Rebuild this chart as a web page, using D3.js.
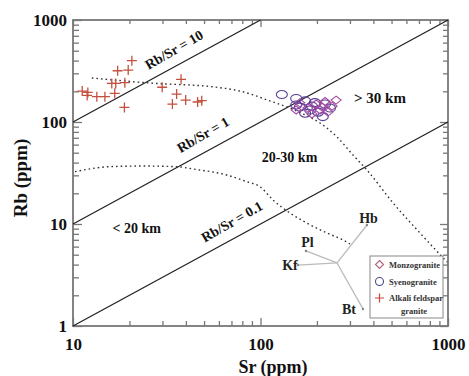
<!DOCTYPE html>
<html><head><meta charset="utf-8">
<script src="https://cdn.jsdelivr.net/npm/d3@7"></script>
<style>body{margin:0;background:#fff;} text{font-family:"Liberation Serif","Times New Roman",serif;font-weight:bold;}</style>
</head><body><svg id="c" width="469" height="376"></svg>
<script>
// ---- data ----
const srMajorTicks = [10, 100, 1000];
const rbMajorTicks = [1, 10, 100, 1000];
const ratios = [10, 1, 0.1];
const ratioLabels = ["Rb/Sr = 10", "Rb/Sr = 1", "Rb/Sr = 0.1"];
const ratioLabelSr = [34.6, 49.4, 70.5];
const ratioLabelRb = [508, 74.6, 10.5];

const alkaliSr = [20.6,17.3,19.7,16.1,16.9,18.9,11.2,12.0,11.9,13.4,14.8,16.7,18.8,29.9,37.7,35.7,33.9,39.9,46.2,48.6];
const alkaliRb = [399,318,323,239,239,243,201,195,182,177,177,191,139,219,262,188,150,164,157,162];
const syenoSr = [130,155,173,195,162,184,203,215,155,173,221,235,188];
const syenoRb = [186,170,161,155,140,131,125,113,147,122,150,137,143];
const monzoSr = [221,253,162,179,198,208,229,155,188,213,241];
const monzoRb = [159,164,154,137,150,131,125,131,120,140,143];

const upperCurveSr = [12.6,25.7,57.2,77.7,116.6,143.7,168.6,207.7,255.9,311.4,369.8,508.9,709.0,987.9];
const upperCurveRb = [270,241,220,201,157,137,120,97.8,71.3,47.5,33.8,16.1,8.16,4.24];
const lowerCurveSr = [10.25,15.8,23.6,35.7,43.7,66.0,84.4,99.4,116.6,143.7,177.0,226.3,275.4,300.1];
const lowerCurveRb = [32.6,36.5,37.0,36.5,34.6,30.2,26.0,23.2,17.2,12.8,10.2,8.16,6.97,6.37];

const regionLabels = ["> 30 km", "20-30 km", "< 20 km"];
const regionSr = [433.9, 142.8, 21.9];
const regionRb = [171.9, 44.9, 9.03];

const vectorOrigin = [255.9, 4.15];
const minerals = ["Hb", "Pl", "Kf", "Bt"];
const mineralEndSr = [369.8, 174.8, 158.5, 352.1];
const mineralEndRb = [9.78, 5.44, 3.96, 1.47];
const mineralLabelSr = [376.7, 178.1, 143.7, 296.5];
const mineralLabelRb = [11.45, 6.59, 3.96, 1.44];

const legendNames = ["Monzogranite", "Syenogranite", "Alkali feldspar"];

// ---- layout ----
const L = 73, R = 448, T = 20, B = 326;
const svg = d3.select("#c");
const x = d3.scaleLog().domain([10, 1000]).range([L, R]);
const y = d3.scaleLog().domain([1, 1000]).range([B, T]);

const minorOf = (dom) => { const out=[]; for (let d=dom[0]; d<dom[1]; d*=10) for (let k=2;k<=9;k++) out.push(d*k); return out; };
const srMinor = minorOf([10,1000]), rbMinor = minorOf([1,1000]);

const axCol = "#777";
function styleAx(g){ g.select(".domain").remove(); g.selectAll("line").attr("stroke", axCol).attr("stroke-width",1.3); g.selectAll("text").attr("font-family","Liberation Serif").attr("font-weight","bold").attr("fill","#111"); }

// bottom
svg.append("g").attr("transform",`translate(0,${B})`).call(d3.axisBottom(x).tickValues(srMinor).tickSize(-5).tickFormat("")).call(styleAx);
svg.append("g").attr("transform",`translate(0,${B})`).call(d3.axisBottom(x).tickValues(srMajorTicks).tickSize(-8).tickPadding(12).tickFormat(d3.format("d"))).call(styleAx).call(g=>g.selectAll("text").attr("font-size",17));
// top
svg.append("g").attr("transform",`translate(0,${T})`).call(d3.axisTop(x).tickValues(srMinor).tickSize(-4).tickFormat("")).call(styleAx);
svg.append("g").attr("transform",`translate(0,${T})`).call(d3.axisTop(x).tickValues(srMajorTicks).tickSize(-7).tickFormat("")).call(styleAx);
// left
svg.append("g").attr("transform",`translate(${L},0)`).call(d3.axisLeft(y).tickValues(rbMinor).tickSize(-6).tickFormat("")).call(styleAx);
svg.append("g").attr("transform",`translate(${L},0)`).call(d3.axisLeft(y).tickValues(rbMajorTicks).tickSize(-9).tickPadding(6).tickFormat(d3.format("d"))).call(styleAx).call(g=>g.selectAll("text").attr("font-size",17));
// right
svg.append("g").attr("transform",`translate(${R},0)`).call(d3.axisRight(y).tickValues(rbMinor).tickSize(-5).tickFormat("")).call(styleAx);
svg.append("g").attr("transform",`translate(${R},0)`).call(d3.axisRight(y).tickValues(rbMajorTicks).tickSize(-8).tickFormat("")).call(styleAx);

svg.append("rect").attr("x",L).attr("y",T).attr("width",R-L).attr("height",B-T).attr("fill","none").attr("stroke",axCol).attr("stroke-width",1.8);

// axis titles
svg.append("text").attr("x",273).attr("y",373).attr("text-anchor","middle").attr("font-size",18).attr("fill","#111").text("Sr (ppm)");
svg.append("text").attr("transform","translate(27,178) rotate(-90)").attr("text-anchor","middle").attr("font-size",19).attr("fill","#111").text("Rb (ppm)");

const plot = svg.append("g");
// ratio lines
ratios.forEach((r,i)=>{
  const s0 = Math.max(10, 1/r), s1 = Math.min(1000, 1000/r);
  plot.append("line").attr("x1",x(s0)).attr("y1",y(r*s0)).attr("x2",x(s1)).attr("y2",y(r*s1)).attr("stroke","#222").attr("stroke-width",1.3);
  plot.append("text").attr("transform",`translate(${x(ratioLabelSr[i])},${y(ratioLabelRb[i])}) rotate(-30)`).attr("text-anchor","middle").attr("dominant-baseline","central").attr("font-size",14).attr("fill","#111").text(ratioLabels[i]);
});

// dotted curves
const line = d3.line().x(d=>x(d[0])).y(d=>y(d[1])).curve(d3.curveMonotoneX);
[[upperCurveSr,upperCurveRb],[lowerCurveSr,lowerCurveRb]].forEach(([s,r])=>{
  plot.append("path").attr("d", line(s.map((v,i)=>[v,r[i]]))).attr("fill","none").attr("stroke","#333").attr("stroke-width",1.4).attr("stroke-dasharray","1.6,3");
});

// region labels
regionLabels.forEach((t,i)=>{
  plot.append("text").attr("x",x(regionSr[i])).attr("y",y(regionRb[i])).attr("text-anchor","middle").attr("dominant-baseline","central").attr("font-size",i===0?15:14).attr("fill","#111").text(t);
});

// mineral vectors
minerals.forEach((m,i)=>{
  plot.append("line").attr("x1",x(vectorOrigin[0])).attr("y1",y(vectorOrigin[1])).attr("x2",x(mineralEndSr[i])).attr("y2",y(mineralEndRb[i])).attr("stroke","#bbb").attr("stroke-width",1.3);
  plot.append("circle").attr("cx",x(mineralEndSr[i])).attr("cy",y(mineralEndRb[i])).attr("r",1.2).attr("fill","#888");
  plot.append("text").attr("x",x(mineralLabelSr[i])).attr("y",y(mineralLabelRb[i])).attr("text-anchor","middle").attr("dominant-baseline","central").attr("font-size",14).attr("fill","#222").text(m);
});

// markers
const redC = "#c4503f", circC = "#5b3f95", diaC = "#a24aa3";
const diamond = (g,cx,cy,w,h,c)=>g.append("path").attr("d",`M${cx},${cy-h}L${cx+w},${cy}L${cx},${cy+h}L${cx-w},${cy}Z`).attr("fill","none").attr("stroke",c).attr("stroke-width",1.1);
syenoSr.forEach((s,i)=>plot.append("ellipse").attr("cx",x(s)).attr("cy",y(syenoRb[i])).attr("rx",5.5).attr("ry",4).attr("fill","none").attr("stroke",circC).attr("stroke-width",1.1));
monzoSr.forEach((s,i)=>diamond(plot,x(s),y(monzoRb[i]),5,4,diaC));
alkaliSr.forEach((s,i)=>{
  const cx=x(s), cy=y(alkaliRb[i]);
  plot.append("path").attr("d",`M${cx-5},${cy}H${cx+5}M${cx},${cy-5}V${cy+5}`).attr("stroke",redC).attr("stroke-width",1.3);
});

// legend
const lg = svg.append("g");
lg.append("rect").attr("x",370).attr("y",256).attr("width",73).attr("height",62).attr("fill","#fff").attr("stroke","#888").attr("stroke-width",1);
diamond(lg,379.5,264.5,4,4,"#b2607f");
lg.append("circle").attr("cx",379.5).attr("cy",281.5).attr("r",4).attr("fill","none").attr("stroke","#4a4a8c").attr("stroke-width",1.1);
lg.append("path").attr("d","M375,298H384M379.5,293.5V302.5").attr("stroke","#c8453a").attr("stroke-width",1.2);
legendNames.forEach((n,i)=>lg.append("text").attr("x",389).attr("y",[264.5,281.5,298][i]).attr("dominant-baseline","central").attr("font-size",8.5).attr("fill","#333").text(n));
lg.append("text").attr("x",414).attr("y",311).attr("text-anchor","middle").attr("dominant-baseline","central").attr("font-size",8.5).attr("fill","#333").text("granite");
</script></body></html>
